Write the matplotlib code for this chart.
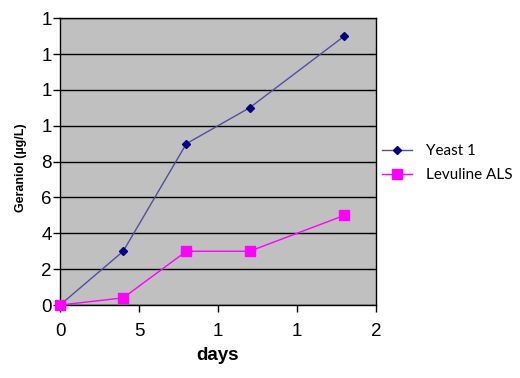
import matplotlib
matplotlib.use('Agg')
import matplotlib.pyplot as plt

# data
days = [0, 4, 8, 12, 18]
yeast1 = [0, 3, 9, 11, 15]
levuline = [0, 0.4, 3, 3, 5]

xTicks = [0, 5, 10, 15, 20]
xTickLabels = ['0', '5', '1', '1', '2']  # truncated as in the original
yTicks = [0, 2, 4, 6, 8, 10, 12, 14, 16]
yTickLabels = ['0', '2', '4', '6', '8', '1', '1', '1', '1']

fig = plt.figure(figsize=(5.2, 3.78), dpi=100)
ax = fig.add_axes([0.1154, 0.193, 0.6076, 0.759])
ax.set_facecolor('#c0c0c0')

ax.plot(days, yeast1, color='#5050a0', linewidth=1, marker='D', markersize=4.5,
        markerfacecolor='#000080', markeredgecolor='#000080', label='Yeast 1', clip_on=False, zorder=3)
ax.plot(days, levuline, color='#ff00ff', linewidth=1, marker='s', markersize=7,
        markerfacecolor='#ff00ff', markeredgecolor='#ff00ff', label='Levuline ALS', clip_on=False, zorder=3)

ax.set_xlim(0, 20)
ax.set_ylim(0, 16)
ax.set_xticks(xTicks)
ax.set_xticklabels(xTickLabels, family='Liberation Sans', fontsize=13.5)
ax.set_yticks(yTicks)
ax.set_yticklabels(yTickLabels, family='Liberation Sans', fontsize=13.5)
ax.tick_params(axis='both', direction='out', length=5, width=1, color='black')
ax.tick_params(axis='x', pad=8)
ax.tick_params(axis='y', pad=1)
ax.yaxis.grid(True, color='black', linewidth=1)
ax.set_axisbelow(True)
for s in ax.spines.values():
    s.set_color('black')
    s.set_linewidth(1)

ax.set_xlabel('days', family='Liberation Sans', fontsize=13.5, fontweight='bold', labelpad=5)
ax.set_ylabel('Geraniol (\u00b5g/L)', family='Liberation Sans', fontsize=9, fontweight='bold')
ax.yaxis.set_label_coords(-0.105, 0.48)

leg = ax.legend(loc='center left', bbox_to_anchor=(0.975, 0.495), frameon=False,
                prop={'family': 'Lato', 'size': 11}, handlelength=2.0, handletextpad=0.9,
                labelspacing=0.65)

fig.savefig('out.png', dpi=100)
